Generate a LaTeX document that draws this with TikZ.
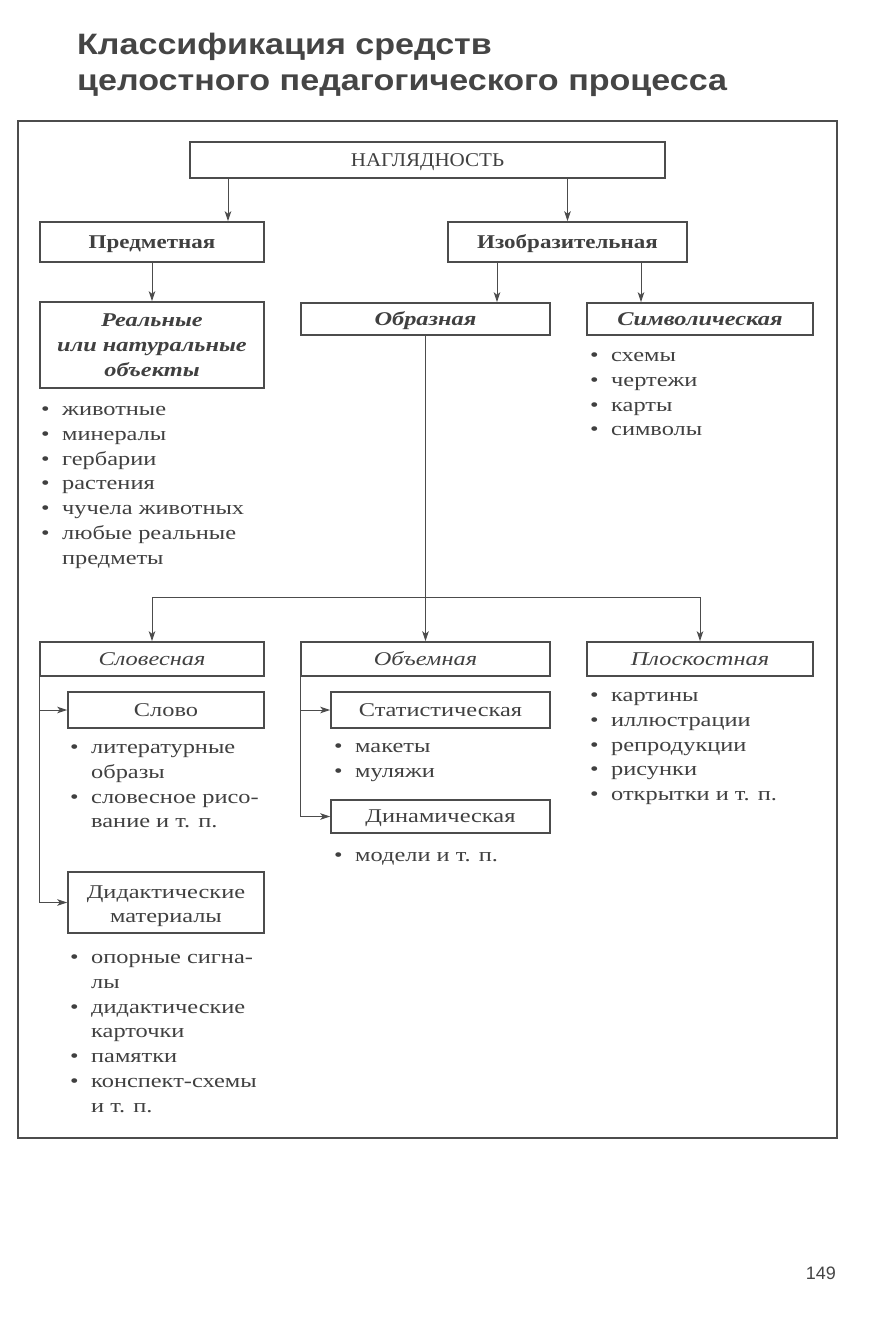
\documentclass[tikz,border=0pt]{standalone}
\usepackage{fontspec}
\setmainfont{Liberation Serif}[FakeStretch=1.25]
\newfontfamily\bserif{Liberation Serif}[FakeStretch=1.18]
\newfontfamily\capserif{Liberation Serif}[FakeStretch=1.08]
\newfontfamily\titlefont{Liberation Sans}[FakeStretch=1.155]
\newfontfamily\pagefont{Liberation Sans}
\usetikzlibrary{arrows.meta}
\definecolor{linec}{gray}{0.3}
\definecolor{textc}{gray}{0.25}
\definecolor{titlec}{gray}{0.27}
\newcommand{\bodyfont}{\fontsize{19.5}{24.8}\selectfont}
\newcommand{\bl}[1]{\strut\makebox[21pt][l]{•}#1}
\newcommand{\cl}[1]{\strut\hspace*{21pt}#1}
\tikzset{
  box/.style={draw=linec, line width=1.5pt, inner sep=0pt, text=textc, font=\bodyfont, align=center},
  one/.style={text height=12pt, text depth=0pt},
  lst/.style={inner sep=0pt, anchor=north west, align=left, text=textc, font=\bodyfont},
  arr/.style={draw=linec, line width=1pt, -{Stealth[length=10pt,width=6.5pt,inset=2.5pt]}},
  ln/.style={draw=linec, line width=1pt},
  ttl/.style={anchor=base west, inner sep=0pt, text=titlec, font=\titlefont\bfseries\fontsize{29.5}{35}\selectfont},
}
\begin{document}
\begin{tikzpicture}[x=1pt,y=-1pt]
\useasboundingbox (0,0) rectangle (885,1323);
% title
\node[ttl] (t1) at (77,54) {Классификация средств};
\node[ttl] (t2) at (77,90) {целостного педагогического процесса};
% frame
\draw[draw=linec, line width=2pt] (18,121) rectangle (837,1138);
% boxes
\node[box, one, minimum width=475pt, minimum height=36pt, font=\bodyfont\capserif] (nag) at (427.5,160) {НАГЛЯДНОСТЬ};
\node[box, one, minimum width=224pt, minimum height=40pt, font=\bodyfont\bserif\bfseries] (pred) at (152,242) {Предметная};
\node[box, one, minimum width=239pt, minimum height=40pt, font=\bodyfont\bserif\bfseries] (izo) at (567.5,242) {Изобразительная};
\node[box, minimum width=224pt, minimum height=86pt, font=\bodyfont\bfseries\itshape] (real) at (152,345) {Реальные\\или натуральные\\объекты};
\node[box, one, minimum width=249pt, minimum height=32pt, font=\bodyfont\bfseries\itshape] (obr) at (425.5,319) {Образная};
\node[box, one, minimum width=226pt, minimum height=32pt, font=\bodyfont\bfseries\itshape] (sym) at (700,319) {Символическая};
\node[box, one, minimum width=224pt, minimum height=34pt, font=\bodyfont\itshape] (slov) at (152,659) {Словесная};
\node[box, one, minimum width=249pt, minimum height=34pt, font=\bodyfont\itshape] (obem) at (425.5,659) {Объемная};
\node[box, one, minimum width=226pt, minimum height=34pt, font=\bodyfont\itshape] (plos) at (700,659) {Плоскостная};
\node[box, one, minimum width=196pt, minimum height=36pt] (slovo) at (166,710) {Слово};
\node[box, minimum width=196pt, minimum height=61pt] (did) at (166,902.5) {\rule{0pt}{20pt}Дидактические\\материалы};
\node[box, one, minimum width=219pt, minimum height=36pt] (stat) at (440.5,710) {Статистическая};
\node[box, one, minimum width=219pt, minimum height=33pt] (dyn) at (440.5,816.5) {Динамическая};
% helper coordinates
\coordinate (c1) at (228,0);
\coordinate (c2) at (497,0);
\coordinate (c3) at (641,0);
\coordinate (hj) at (0,597);
% connectors
\draw[arr] (nag.south -| c1) -- (pred.north -| c1);
\draw[arr] (nag.south -| izo.north) -- (izo.north);
\draw[arr] (pred.south) -- (real.north);
\draw[arr] (izo.south -| c2) -- (obr.north -| c2);
\draw[arr] (izo.south -| c3) -- (sym.north -| c3);
\draw[arr] (obr.south) -- (obem.north);
\draw[ln] (hj -| slov.north) -- (hj -| plos.north);
\draw[arr] (hj -| slov.north) -- (slov.north);
\draw[arr] (hj -| plos.north) -- (plos.north);
\draw[arr] (slov.south west) |- (slovo.west);
\draw[arr] (slov.south west) |- (did.west);
\draw[arr] (obem.south west) |- (stat.west);
\draw[arr] (obem.south west) |- (dyn.west);
% lists
\node[lst] (lreal) at (41,398) {\bl{животные}\\\bl{минералы}\\\bl{гербарии}\\\bl{растения}\\\bl{чучела животных}\\\bl{любые реальные}\\\cl{предметы}};
\node[lst] (lsym) at (590,344) {\bl{схемы}\\\bl{чертежи}\\\bl{карты}\\\bl{символы}};
\node[lst] (lplos) at (590,684) {\bl{картины}\\\bl{иллюстрации}\\\bl{репродукции}\\\bl{рисунки}\\\bl{открытки и т. п.}};
\node[lst] (lslovo) at (70,736) {\bl{литературные}\\\cl{образы}\\\bl{словесное рисо-}\\\cl{вание и т. п.}};
\node[lst] (ldid) at (70,946) {\bl{опорные сигна-}\\\cl{лы}\\\bl{дидактические}\\\cl{карточки}\\\bl{памятки}\\\bl{конспект-схемы}\\\cl{и т. п.}};
\node[lst] (lstat) at (334,735) {\bl{макеты}\\\bl{муляжи}};
\node[lst] (ldyn) at (334,844) {\bl{модели и т. п.}};
% page number
\node[anchor=base east, inner sep=0pt, text=titlec, font=\pagefont\fontsize{18}{20}\selectfont] (pg) at (836,1279) {149};
\end{tikzpicture}
\end{document}
